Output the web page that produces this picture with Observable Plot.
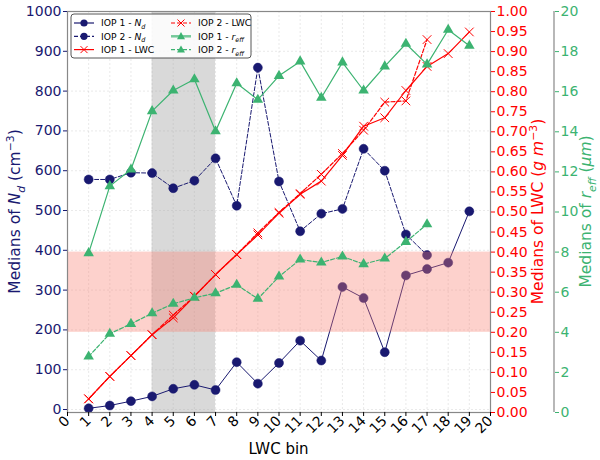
<!DOCTYPE html>
<html><head><meta charset="utf-8">
<script src="https://cdn.jsdelivr.net/npm/d3@7"></script>
<script src="https://cdn.jsdelivr.net/npm/@observablehq/plot@0.6"></script>
<style>body{margin:0;background:#fff} svg{display:block}</style>
</head><body><div id="chart"></div>
<script>
// ---- data ----
const bins = [1,2,3,4,5,6,7,8,9,10,11,12,13,14,15,16,17,18,19];
const ndIop1 = [3,10,21,33,52,62,49,119,65,117,173,123,308,280,144,337,353,369,498];
const ndIop2 = [578,578,595,594,556,575,631,512,859,573,448,492,504,655,600,440,388];
const lwcIop1 = [0.034,0.090,0.142,0.194,0.236,0.290,0.344,0.394,0.443,0.497,0.544,0.577,0.641,0.714,0.735,0.803,0.863,0.895,0.949];
const lwcIop2 = [0.034,0.090,0.142,0.194,0.243,0.290,0.344,0.394,0.448,0.499,0.546,0.594,0.646,0.704,0.774,0.777,0.930];
const reffIop1 = [7.95,11.29,12.12,15.03,16.06,16.62,14.03,16.42,15.60,16.79,17.51,15.70,17.46,16.06,17.26,18.39,17.36,19.09,18.29];
const reffIop2 = [2.79,3.93,4.42,4.95,5.42,5.72,5.95,6.37,5.67,6.78,7.63,7.48,7.78,7.40,7.68,8.51,9.39];
const graySpanBins = [4, 7];
const pinkSpanLwc = [0.2, 0.4];
const xTicks = [0,1,2,3,4,5,6,7,8,9,10,11,12,13,14,15,16,17,18,19,20];
const ndTicks = [0,100,200,300,400,500,600,700,800,900,1000];
const lwcTicks = [0,0.05,0.1,0.15,0.2,0.25,0.3,0.35,0.4,0.45,0.5,0.55,0.6,0.65,0.7,0.75,0.8,0.85,0.9,0.95,1.0];
const reffTicks = [0,2,4,6,8,10,12,14,16,18,20];
const legendItems = [
  {label:["IOP 1 - ", "N", "d"], color:"navy1", dash:false, sym:"circle"},
  {label:["IOP 2 - ", "N", "d"], color:"navy1", dash:true, sym:"circle"},
  {label:["IOP 1 - LWC"], color:"red", dash:false, sym:"times"},
  {label:["IOP 2 - LWC"], color:"red", dash:true, sym:"times"},
  {label:["IOP 1 - ", "r", "eff"], color:"green", dash:false, sym:"triangle"},
  {label:["IOP 2 - ", "r", "eff"], color:"green", dash:true, sym:"triangle"}
];

// ---- styles ----
const NAVY = "#191970", RED = "#ff0000", GREEN = "#3cb371";
const colorOf = {navy1: NAVY, red: RED, green: GREEN};
const ND_MIN = -7.5, ND_MAX = 1000, LWC_MAX = 1.0, REFF_MAX = 20;
const lwcToY = v => ND_MIN + v / LWC_MAX * (ND_MAX - ND_MIN);
const reffToY = v => ND_MIN + v / REFF_MAX * (ND_MAX - ND_MIN);
const rows = (vals) => vals.map((v, i) => ({bin: bins[i], v}));

const W = 600, H = 460, mL = 67, mR = 110, mT = 11, mB = 48;
const FONT = "DejaVu Sans";

const chart = Plot.plot({
  width: W, height: H,
  marginLeft: mL, marginRight: mR, marginTop: mT, marginBottom: mB,
  style: {fontFamily: FONT, fontSize: "14px", background: "#fff", overflow: "visible"},
  x: {domain: [0, 20]},
  y: {domain: [ND_MIN, ND_MAX]},
  marks: [
    Plot.rect([graySpanBins], {x1: d => d[0], x2: d => d[1], fill: "#d9d9d9"}),
    Plot.gridX(xTicks, {stroke: "#aaa", strokeOpacity: 0.25, strokeDasharray: "2,2"}),
    Plot.gridY(ndTicks, {stroke: "#aaa", strokeOpacity: 0.25, strokeDasharray: "2,2"}),
    Plot.line(rows(ndIop1), {x: "bin", y: "v", stroke: NAVY, strokeWidth: 1}),
    Plot.dot(rows(ndIop1), {x: "bin", y: "v", r: 4.5, fill: NAVY, stroke: NAVY, strokeWidth: 0.5}),
    Plot.line(rows(ndIop2), {x: "bin", y: "v", stroke: NAVY, strokeWidth: 1, strokeDasharray: "4,2"}),
    Plot.dot(rows(ndIop2), {x: "bin", y: "v", r: 4.5, fill: NAVY, stroke: NAVY, strokeWidth: 0.5}),
    Plot.rect([pinkSpanLwc], {y1: d => lwcToY(d[0]), y2: d => lwcToY(d[1]), fill: "#fa8072", fillOpacity: 0.36}),
    Plot.line(rows(lwcIop1), {x: "bin", y: d => lwcToY(d.v), stroke: RED, strokeWidth: 1.2}),
    Plot.dot(rows(lwcIop1), {x: "bin", y: d => lwcToY(d.v), symbol: "times", r: 4, stroke: RED, strokeWidth: 1}),
    Plot.line(rows(lwcIop2), {x: "bin", y: d => lwcToY(d.v), stroke: RED, strokeWidth: 1.2, strokeDasharray: "4,2"}),
    Plot.dot(rows(lwcIop2), {x: "bin", y: d => lwcToY(d.v), symbol: "times", r: 4, stroke: RED, strokeWidth: 1}),
    Plot.line(rows(reffIop1), {x: "bin", y: d => reffToY(d.v), stroke: GREEN, strokeWidth: 1.2}),
    Plot.dot(rows(reffIop1), {x: "bin", y: d => reffToY(d.v), symbol: "triangle", r: 3.9, fill: GREEN}),
    Plot.line(rows(reffIop2), {x: "bin", y: d => reffToY(d.v), stroke: GREEN, strokeWidth: 1.2, strokeDasharray: "4,2"}),
    Plot.dot(rows(reffIop2), {x: "bin", y: d => reffToY(d.v), symbol: "triangle", r: 3.9, fill: GREEN}),
    Plot.frame({stroke: "#888", strokeWidth: 1.2}),
    Plot.axisX(xTicks, {tickRotate: -45, tickSize: 4, tickPadding: 2, fontSize: 14, label: null, tickFormat: d => String(d), color: "#000"}),
    Plot.axisY(ndTicks, {anchor: "left", tickSize: 4, tickPadding: 2, fontSize: 14, label: null, color: NAVY, tickFormat: d => String(d)}),
    Plot.axisY(lwcTicks.map(lwcToY), {anchor: "right", tickSize: 4, tickPadding: 2, fontSize: 14, label: null, color: RED,
      tickFormat: d => ((d - ND_MIN) / (ND_MAX - ND_MIN) * LWC_MAX).toFixed(2)}),
    Plot.axisY(reffTicks.map(reffToY), {anchor: "right", dx: 64, tickSize: 4, tickPadding: 2, fontSize: 14, label: null, color: GREEN,
      tickFormat: d => String(Math.round((d - ND_MIN) / (ND_MAX - ND_MIN) * REFF_MAX))})
  ]
});
document.getElementById("chart").appendChild(chart);

// ---- extra decorations: labels, third spine, legend ----
const svg = d3.select(chart);
const plotTop = mT, plotBottom = H - mB, midY = (plotTop + plotBottom) / 2;
svg.append("line").attr("x1", W - mR + 64).attr("x2", W - mR + 64).attr("y1", plotTop).attr("y2", plotBottom)
  .attr("stroke", "#888").attr("stroke-width", 1.2);

function rich(t, parts, size) {
  let shift = 0;
  parts.forEach(([txt, ital, sh]) => {
    const ts = t.append("tspan").text(txt);
    if (ital) ts.attr("font-style", "italic");
    const target = sh === "sub" ? size * 0.3 : sh === "sup" ? -size * 0.42 : 0;
    ts.attr("dy", target - shift);
    shift = target;
    if (sh) ts.attr("font-size", size * 0.7);
  });
}
function axisLabel(x, y, rot, color, parts, size) {
  const t = svg.append("text").attr("transform", `translate(${x},${y}) rotate(${rot})`)
    .attr("text-anchor", "middle").attr("fill", color).attr("font-family", FONT).attr("font-size", size);
  rich(t, parts, size);
}
axisLabel(20, midY, -90, NAVY, [["Medians of "], ["N", true], ["d", true, "sub"], [" (cm"], ["\u22123", false, "sup"], [")"]], 15.5);
axisLabel(543, midY, -90, RED, [["Medians of LWC ("], ["g m", true], ["\u22123", false, "sup"], [")"]], 15.5);
axisLabel(591, midY, -90, GREEN, [["Medians of "], ["r", true], ["eff", true, "sub"], [" ("], ["\u03bcm", true], [")"]], 15.5);
axisLabel((mL + W - mR) / 2, 454, 0, "#000", [["LWC bin"]], 15);

// legend
const lg = svg.append("g").attr("font-family", FONT).attr("font-size", 9.2).attr("text-anchor", "start");
lg.append("rect").attr("x", 71).attr("y", 14).attr("width", 180).attr("height", 44).attr("rx", 3)
  .attr("fill", "#fff").attr("fill-opacity", 0.85).attr("stroke", "#444").attr("stroke-width", 0.9);
const colX = [74, 171], rowY = [23, 36.3, 49.6];
legendItems.forEach((it, i) => {
  const c = Math.floor(i / 3), r = i % 3;
  const x0 = colX[c], y0 = rowY[r], col = colorOf[it.color];
  lg.append("line").attr("x1", x0).attr("x2", x0 + 20).attr("y1", y0).attr("y2", y0)
    .attr("stroke", col).attr("stroke-width", it.sym === "triangle" && !it.dash ? 2.5 : 1.2)
    .attr("stroke-opacity", it.sym === "triangle" && !it.dash ? 0.7 : 1)
    .attr("stroke-dasharray", it.dash ? "4,2" : null);
  const mx = x0 + 10;
  if (it.sym === "circle") lg.append("circle").attr("cx", mx).attr("cy", y0).attr("r", 3.6).attr("fill", col);
  if (it.sym === "times") lg.append("path").attr("d", `M${mx-3.5},${y0-3.5}L${mx+3.5},${y0+3.5}M${mx-3.5},${y0+3.5}L${mx+3.5},${y0-3.5}`)
    .attr("stroke", col).attr("stroke-width", 1).attr("fill", "none");
  if (it.sym === "triangle") lg.append("path").attr("d", `M${mx},${y0-4.2}L${mx+4},${y0+3}L${mx-4},${y0+3}Z`).attr("fill", col);
  const t = lg.append("text").attr("x", x0 + 27).attr("y", y0 + 3.3).attr("fill", "#000").attr("text-anchor", "start");
  const [a, b, s] = it.label;
  const parts = [[a]];
  if (b) { parts.push([b, true]); parts.push([s, true, "sub"]); }
  rich(t, parts, 9.2);
});
</script>
</body></html>
